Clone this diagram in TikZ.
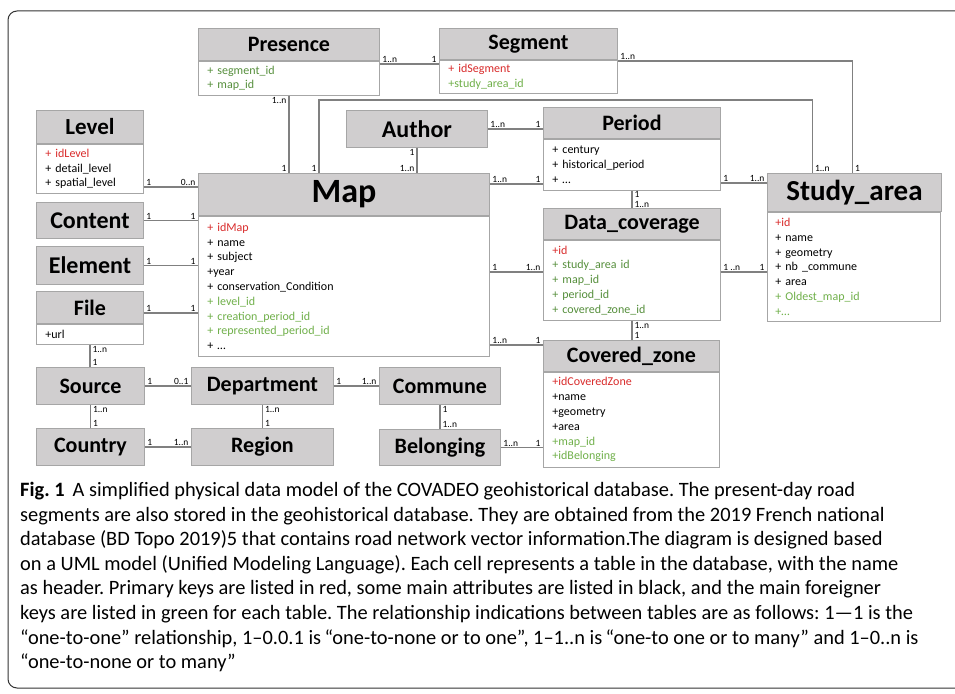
\documentclass[tikz,border=0pt]{standalone}
\usepackage{fontspec}
\setmainfont{Carlito}
\usetikzlibrary{positioning, calc}

\definecolor{headgray}{HTML}{D0CECF}
\definecolor{boxgray}{HTML}{A6A6A6}
\definecolor{linegray}{HTML}{808080}
\definecolor{keyred}{HTML}{D92B2B}
\definecolor{fkgreen}{HTML}{568F3C}
\definecolor{fkgreenlt}{HTML}{70B04A}

\newcommand{\pk}[1]{\textcolor{keyred}{#1}}
\newcommand{\fk}[1]{\textcolor{fkgreen}{#1}}
\newcommand{\fkl}[1]{\textcolor{fkgreenlt}{#1}}

\begin{document}
\begin{tikzpicture}[x=1pt, y=-1pt,
    tblhead/.style={draw=boxgray, fill=headgray, line width=0.9pt, inner sep=0pt, anchor=north west, font=\bfseries\fontsize{22}{24}\selectfont},
    tblbody/.style={draw=boxgray, fill=white, line width=0.9pt, inner xsep=9pt, inner ysep=0pt, align=left, anchor=north west, font=\fontsize{12}{14.8}\selectfont},
    conn/.style={draw=linegray, line width=1.1pt},
    mult/.style={font=\fontsize{9.5}{10}\selectfont, inner xsep=2pt, inner ysep=0.6pt}]
    \useasboundingbox (0,0) rectangle (955,693);

    % Outer frame
    \draw[line width=1pt, draw=black!80, rounded corners=9pt] (970,11) -- (8,11) -- (8,688) -- (970,688);

    % Define tables
    \node[tblhead, minimum width=181pt, minimum height=32pt] (presH) at (198,28) {Presence};
    \node[tblbody, text width=163pt, minimum height=34pt] (presA) at (presH.south west) {\fk{+ segment\_id}\\\fk{+ map\_id}};

    \node[tblhead, minimum width=178pt, minimum height=31pt] (segH) at (439,28) {Segment};
    \node[tblbody, text width=160pt, minimum height=33pt] (segA) at (segH.south west) {\pk{+ idSegment}\\\fkl{+study\_area\_id}};

    \node[tblhead, minimum width=107pt, minimum height=33pt, font=\bfseries\fontsize{23}{24}\selectfont] (levH) at (36,110) {Level};
    \node[tblbody, text width=89pt, minimum height=49pt] (levA) at (levH.south west) {\pk{+ idLevel}\\+ detail\_level\\+ spatial\_level};

    \node[tblhead, minimum width=141pt, minimum height=37pt, font=\bfseries\fontsize{24}{26}\selectfont] (authH) at (346,110) {Author};

    \node[tblhead, minimum width=177pt, minimum height=31pt] (perH) at (543,107) {Period};
    \node[tblbody, text width=159pt, minimum height=51pt] (perA) at (perH.south west) {+ century\\+ historical\_period\\+ \dots};

    \node[tblhead, minimum width=291pt, minimum height=42pt, font=\bfseries\fontsize{34}{36}\selectfont] (mapH) at (198,173) {Map};
    \node[tblbody, text width=273pt, minimum height=140pt] (mapA) at (mapH.south west) {\pk{+ idMap}\\+ name\\+ subject\\+year\\+ conservation\_Condition\\\fkl{+ level\_id}\\\fkl{+ creation\_period\_id}\\\fkl{+ represented\_period\_id}\\+ \dots};

    \node[tblhead, minimum width=107pt, minimum height=36pt, font=\bfseries\fontsize{24}{26}\selectfont] (contH) at (36,202) {Content};
    \node[tblhead, minimum width=107pt, minimum height=38pt, font=\bfseries\fontsize{24}{26}\selectfont] (elemH) at (36,246) {Element};

    \node[tblhead, minimum width=107pt, minimum height=32pt] (fileH) at (36,291) {File};
    \node[tblbody, text width=89pt, minimum height=20pt] (fileA) at (fileH.south west) {+url};

    \node[tblhead, minimum width=177pt, minimum height=31pt] (dcH) at (543,208) {Data\_coverage};
    \node[tblbody, text width=159pt, minimum height=80pt] (dcA) at (dcH.south west) {\pk{+id}\\\fk{+ study\_area id}\\\fk{+ map\_id}\\\fk{+ period\_id}\\\fk{+ covered\_zone\_id}};

    \node[tblhead, minimum width=174pt, minimum height=38pt, font=\bfseries\fontsize{29}{31}\selectfont] (studyH) at (767,173) {Study\_area};
    \node[tblbody, text width=157pt, inner xsep=8pt, minimum height=109pt] (studyA) at (studyH.south west) {\pk{+id}\\+ name\\+ geometry\\+ nb \_commune\\+ area\\\fkl{+ Oldest\_map\_id}\\\fkl{+\dots}};

    \node[tblhead, minimum width=176pt, minimum height=31pt] (czH) at (543,340) {Covered\_zone};
    \node[tblbody, text width=158pt, minimum height=95pt] (czA) at (czH.south west) {\pk{+idCoveredZone}\\+name\\+geometry\\+area\\\fkl{+map\_id}\\\fkl{+idBelonging}};

    \node[tblhead, minimum width=108pt, minimum height=37pt] (srcH) at (36,367) {Source};
    \node[tblhead, minimum width=142pt, minimum height=37pt] (deptH) at (191,367) {Department};
    \node[tblhead, minimum width=121pt, minimum height=37pt] (commH) at (379,367) {Commune};
    \node[tblhead, minimum width=108pt, minimum height=37pt] (ctryH) at (36,428) {Country};
    \node[tblhead, minimum width=142pt, minimum height=37pt] (regH) at (191,428) {Region};
    \node[tblhead, minimum width=121pt, minimum height=36pt] (belH) at (379,429) {Belonging};

    % Draw relationships
    \draw[conn] (presA.east |- 0,64) -- (segA.west |- 0,64) node[mult, at start, above right] {1..n} node[mult, at end, above left] {1};
    \draw[conn] (segA.east |- 0,61) -| ([xshift=-2pt]studyH.north) node[mult, at start, above right] {1..n} node[mult, at end, above right] {1};
    \draw[conn] (presA.south) -- (presA.south |- mapH.north) node[mult, at start, below left] {1..n} node[mult, at end, above left] {1};
    \draw[conn] ([xshift=-25pt]mapH.north) node[mult, above left] {1} -- ++(0,-73) -| ([xshift=-42pt]studyH.north) node[mult, at end, above right] {1..n};
    \draw[conn] (levA.east |- 0,187) -- (mapH.west |- 0,187) node[mult, at start, above right] {1} node[mult, at end, above left] {0..n};
    \draw[conn] (contH.east) -- (contH.east -| mapA.west) node[mult, at start, above right] {1} node[mult, at end, above left] {1};
    \draw[conn] (elemH.east) -- (elemH.east -| mapA.west) node[mult, at start, above right] {1} node[mult, at end, above left] {1};
    \draw[conn] (fileH.east |- 0,313) -- (mapA.west |- 0,313) node[mult, at start, above right] {1} node[mult, at end, above left] {1};
    \draw[conn] (authH.east) -- (authH.east -| perH.west) node[mult, at start, above right] {1..n} node[mult, at end, above left] {1};
    \draw[conn] (authH.south) -- (authH.south |- mapH.north) node[mult, at start, below left] {1} node[mult, at end, above left] {1..n};
    \draw[conn] (mapH.east |- 0,184) -- (perA.west |- 0,184) node[mult, at start, above right] {1..n} node[mult, at end, above left] {1};
    \draw[conn] (perA.east |- 0,183) -- (studyH.west |- 0,183) node[mult, at start, above right] {1} node[mult, at end, above left] {1..n};
    \draw[conn] (perA.south) -- (perA.south |- dcH.north) node[mult, at start, below right, inner ysep=0pt] {1} node[mult, at end, above right, inner ysep=0pt] {1..n};
    \draw[conn] (mapA.east |- 0,272) -- (dcA.west |- 0,272) node[mult, at start, above right] {1} node[mult, at end, above left] {1..n};
    \draw[conn] (dcA.east |- 0,272) -- (studyA.west |- 0,272) node[mult, at start, above right] {1 ..n} node[mult, at end, above left] {1};
    \draw[conn] (dcA.south) -- (dcA.south |- czH.north) node[mult, at start, below right] {1..n} node[mult, at end, above right] {1};
    \draw[conn] (mapA.east |- 0,345) -- (czH.west |- 0,345) node[mult, at start, above right] {1..n} node[mult, at end, above left] {1};
    \draw[conn] (fileA.south) -- (fileA.south |- srcH.north) node[mult, at start, below right] {1..n} node[mult, at end, above right] {1};
    \draw[conn] (srcH.east) -- (deptH.west) node[mult, at start, above right] {1} node[mult, at end, above left] {0..1};
    \draw[conn] (deptH.east) -- (commH.west) node[mult, at start, above right] {1} node[mult, at end, above left] {1..n};
    \draw[conn] (srcH.south) -- (ctryH.north) node[mult, at start, below right] {1..n} node[mult, at end, above right] {1};
    \draw[conn] (deptH.south) -- (regH.north) node[mult, at start, below right] {1..n} node[mult, at end, above right] {1};
    \draw[conn] (ctryH.east) -- (regH.west) node[mult, at start, above right] {1} node[mult, at end, above left] {1..n};
    \draw[conn] (commH.south) -- (commH.south |- belH.north) node[mult, at start, below right] {1} node[mult, at end, above right] {1..n};
    \draw[conn] (belH.east) -- (belH.east -| czA.west) node[mult, at start, above right] {1..n} node[mult, at end, above left] {1};

    % Caption
    \node[anchor=north west, align=left, inner sep=0pt, font=\frenchspacing\fontsize{20.4}{24.6}\selectfont] (caption) at (20,482) {\textbf{Fig. 1}\hspace{8pt}A simplified physical data model of the COVADEO geohistorical database. The present-day road\\
    segments are also stored in the geohistorical database. They are obtained from the 2019 French national\\
    database (BD Topo 2019)5 that contains road network vector information.The diagram is designed based\\
    on a UML model (Unified Modeling Language). Each cell represents a table in the database, with the name\\
    as header. Primary keys are listed in red, some main attributes are listed in black, and the main foreigner\\
    keys are listed in green for each table. The relationship indications between tables are as follows: 1—1 is the\\
    “one-to-one” relationship, 1–0.0.1 is\,“one-to-none or to one”, 1–1..n is\,“one-to one or to many” and 1–0..n is\\
    “one-to-none or to many”};
\end{tikzpicture}
\end{document}
